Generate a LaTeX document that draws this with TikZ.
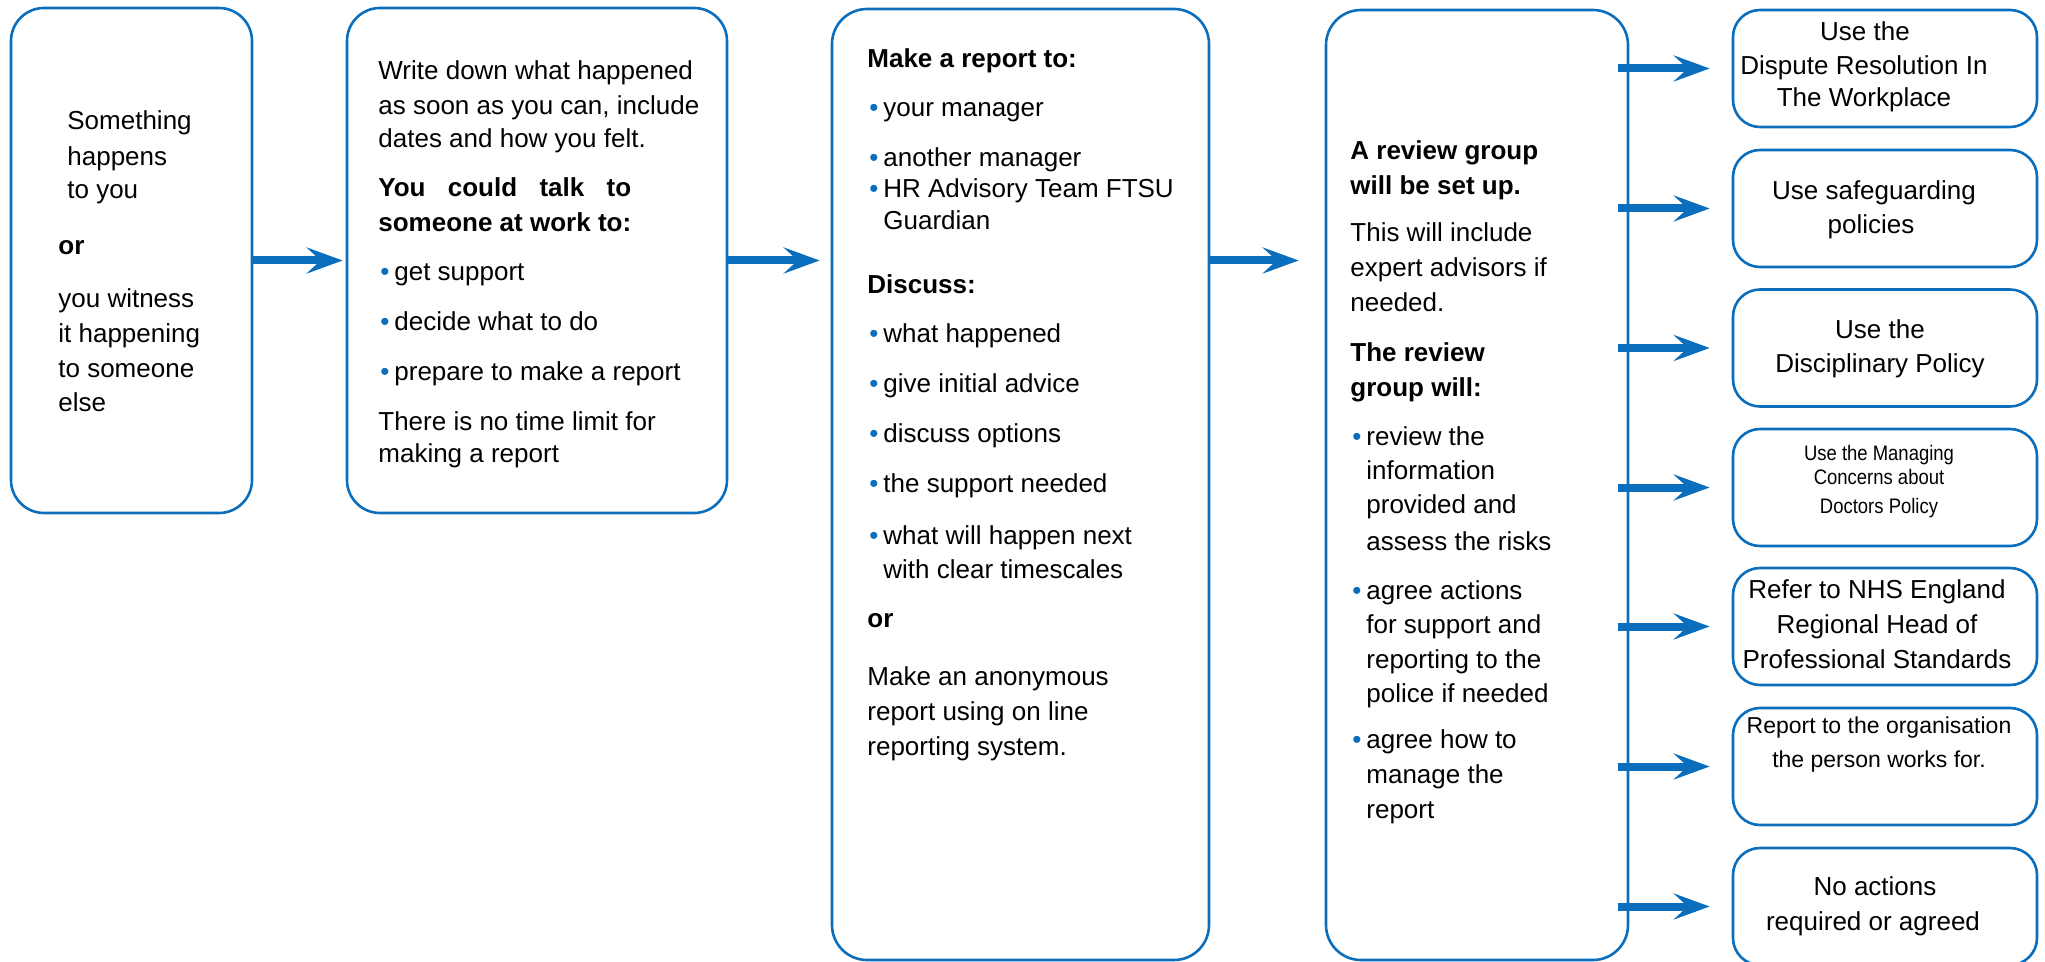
\documentclass[tikz,border=0pt]{standalone}
\usepackage{fontspec}
\setmainfont{Liberation Sans}
\newfontfamily\condfont[FakeStretch=0.88]{Liberation Sans}
\usepackage{calc}
\usetikzlibrary{arrows.meta}
\definecolor{nblue}{HTML}{0A6EBD}
\newcommand\bul{\llap{\textcolor{nblue}{\textbullet}\hspace{2.5pt}}}
\newcommand\spreadline{\makebox[\widthof{someone at work to:}][s]{You\hfill could\hfill talk\hfill to}}
\begin{document}
\begin{tikzpicture}[x=0.5pt,y=-0.5pt,
  box/.style={draw=nblue, line width=1.3pt, rounded corners=16.5pt, inner sep=0pt},
  txt/.style={anchor=base west, inner sep=0pt, font=\fontsize{13}{16}\selectfont},
  ctr/.style={anchor=base, inner sep=0pt, font=\fontsize{13}{16}\selectfont},
  small/.style={anchor=base, inner sep=0pt, font=\condfont\fontsize{10.5}{12}\selectfont},
  mid/.style={anchor=base, inner sep=0pt, font=\fontsize{11.5}{14}\selectfont},
  arr/.style={draw=nblue, line width=4pt, -{Stealth[length=18pt,width=13pt,inset=7pt]}}]
\useasboundingbox (0,0) rectangle (2045,962);

% boxes
\node[box, minimum width=120.5pt, minimum height=252.5pt] (b1) at (131.5,260.5) {};
\node[box, minimum width=190pt, minimum height=252.5pt] (b2) at (537,260.5) {};
\node[box, rounded corners=17.5pt, minimum width=188.5pt, minimum height=475.5pt] (b3) at (1020.5,484.5) {};
\node[box, rounded corners=17.5pt, minimum width=151pt, minimum height=475pt] (b4) at (1477,485) {};
\foreach \i/\y in {1/68.5,2/208.5,3/348,4/487.5,5/626.5,6/766.5,7/906.5}
  \node[box, rounded corners=13.5pt, minimum width=152pt, minimum height=58.5pt] (r\i) at (1885,\y) {};

% arrows
\draw[arr, shorten >=1.5pt] (b1.east) -- (b2.west);
\draw[arr, shorten >=5.5pt] (b2.east) -- (b2.east -| b3.west);
\draw[arr, shorten >=13pt] (b2.east -| b3.east) -- (b2.east -| b4.west);
\foreach \i in {1,...,7}
  \draw[arr, shorten >=11pt] ([xshift=-5.5pt]b4.east |- r\i.west) -- (r\i.west);

% box 1 text
\foreach \x/\y/\t [count=\i] in {67/130/Something, 67/166/happens, 67/199/{to you},
  58/255/{\bfseries or}, 58/308/{you witness}, 58/343/{it happening},
  58/378/{to someone}, 58/412/else}
  \node[txt] (a\i) at (\x,\y) {\t};

% box 2 text
\foreach \x/\y/\t [count=\i] in {378/80/{Write down what happened},
  378/115/{as soon as you can, include}, 378/148/{dates and how you felt.},
  378/197/{\bfseries\spreadline}, 378/232/{\bfseries someone at work to:},
  394/281/{\bul get support}, 394/331/{\bul decide what to do},
  394/381/{\bul prepare to make a report}, 378/430/{There is no time limit for},
  378/462/{making a report}}
  \node[txt] (bt\i) at (\x,\y) {\t};

% box 3 text
\foreach \x/\y/\t [count=\i] in {867/68/{\bfseries Make a report to:},
  883/117/{\bul your manager}, 883/167/{\bul another manager},
  883/198/{\bul HR Advisory Team FTSU}, 883/230/Guardian,
  867/294/{\bfseries Discuss:}, 883/343/{\bul what happened},
  883/393/{\bul give initial advice}, 883/443/{\bul discuss options},
  883/493/{\bul the support needed}, 883/544/{\bul what will happen next},
  883/578/{with clear timescales}, 867/627/{\bfseries or},
  867/685/{Make an anonymous}, 867/720/{report using on line},
  867/755/{reporting system.}}
  \node[txt] (ct\i) at (\x,\y) {\t};

% box 4 text
\foreach \x/\y/\t [count=\i] in {1350/160/{\bfseries A review group},
  1350/195/{\bfseries will be set up.}, 1350/242/{This will include},
  1350/277/{expert advisors if}, 1350/312/{needed.},
  1350/362/{\bfseries The review}, 1350/397/{\bfseries group will:},
  1366/445/{\bul review the}, 1366/480/information, 1366/513/{provided and},
  1366/550/{assess the risks}, 1366/599/{\bul agree actions},
  1366/633/{for support and}, 1366/668/{reporting to the},
  1366/702/{police if needed}, 1366/748/{\bul agree how to},
  1366/783/{manage the}, 1366/818/report}
  \node[txt] (dt\i) at (\x,\y) {\t};

% right boxes text
\foreach \x/\y/\t [count=\i] in {1865/41/{Use the}, 1864/75/{Dispute Resolution In},
  1864/107/{The Workplace}, 1874/200/{Use safeguarding}, 1871/234/policies,
  1880/339/{Use the}, 1880/373/{Disciplinary Policy},
  1877/598/{Refer to NHS England}, 1877/633/{Regional Head of},
  1877/668/{Professional Standards}, 1875/895/{No actions},
  1873/930/{required or agreed}}
  \node[ctr] (rt\i) at (\x,\y) {\t};
\foreach \y/\t [count=\i] in {460/{Use the Managing}, 485/{Concerns about}, 513/{Doctors Policy}}
  \node[small] (st\i) at (1879,\y) {\t};
\foreach \y/\t [count=\i] in {733/{Report to the organisation}, 767/{the person works for.}}
  \node[mid] (mt\i) at (1879,\y) {\t};
\end{tikzpicture}
\end{document}
